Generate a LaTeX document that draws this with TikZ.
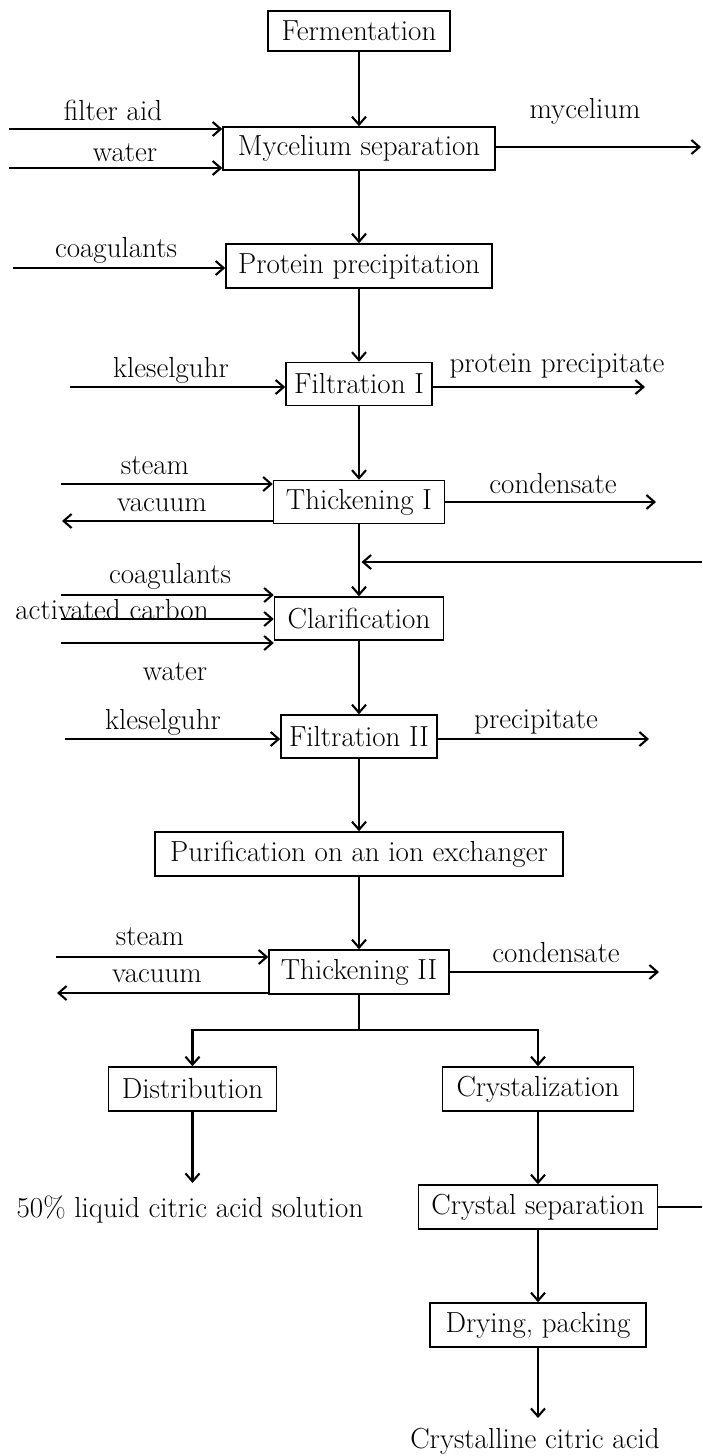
\documentclass[tikz,border=0pt]{standalone}
\usetikzlibrary{arrows.meta,calc}
\begin{document}
\begin{tikzpicture}[x=1pt,y=-1pt,
  every node/.style={font=\fontsize{29}{33}\selectfont},
  box/.style={draw,line width=1.5pt,inner sep=0pt,minimum height=43pt},
  lbl/.style={inner sep=0pt},
  arr/.style={line width=2.1pt,-{Straight Barb[length=8pt,width=14pt,line width=2.1pt]}},
  ln/.style={line width=2.1pt}]
\useasboundingbox (0,0) rectangle (702,1456);
% boxes
\node[box,minimum width=182pt,minimum height=40pt] (ferm) at (359,31) {Fermentation};
\node[box,minimum width=272pt] (myc) at (359,148.5) {Mycelium separation};
\node[box,minimum width=266pt,minimum height=44pt] (prot) at (359,266) {Protein precipitation};
\node[box,minimum width=146pt] (f1) at (359,384) {Filtration I};
\node[box,minimum width=171pt] (t1) at (359,502) {Thickening I};
\node[box,minimum width=169pt] (clar) at (359,618.5) {Clarification};
\node[box,minimum width=156pt] (f2) at (359,736.5) {Filtration II};
\node[box,minimum width=408pt,minimum height=44pt] (pur) at (359,854) {Purification on an ion exchanger};
\node[box,minimum width=180pt,minimum height=44pt] (t2) at (359,972) {Thickening II};
\node[box,minimum width=168pt,minimum height=44pt] (dist) at (192.5,1089) {Distribution};
\node[box,minimum width=191pt,minimum height=44pt] (cry) at (538,1089) {Crystalization};
\node[box,minimum width=239pt,minimum height=44pt] (csep) at (538,1207) {Crystal separation};
\node[box,minimum width=216pt,minimum height=44pt] (dry) at (538,1325) {Drying, packing};
% labels
\node[lbl] (lfa) at (113,110) {filter aid};
\node[lbl] (lw1) at (125,153) {water};
\node[lbl] (lmy) at (585,111) {mycelium};
\node[lbl] (lco1) at (116,250) {coagulants};
\node[lbl] (lk1) at (171,370) {kleselguhr};
\node[lbl] (lpp) at (557,366) {protein precipitate};
\node[lbl] (ls1) at (155,466) {steam};
\node[lbl] (lv1) at (162,505) {vacuum};
\node[lbl] (lc1) at (553,484) {condensate};
\node[lbl] (lco2) at (170,576) {coagulants};
\node[lbl] (lac) at (112,610) {activated carbon};
\node[lbl] (lw2) at (175,672) {water};
\node[lbl] (lk2) at (163,722) {kleselguhr};
\node[lbl] (lpr) at (536,722) {precipitate};
\node[lbl] (ls2) at (150,937) {steam};
\node[lbl] (lv2) at (157,976) {vacuum};
\node[lbl] (lc2) at (556,953) {condensate};
\node[lbl] (lsol) at (190,1209) {50\% liquid citric acid solution};
\node[lbl] (lcca) at (535,1441) {Crystalline citric acid};
% free-end coordinates
\coordinate (cfa) at (9,129);
\coordinate (cw1) at (9,168);
\coordinate (cmy) at (701,147);
\coordinate (cco1) at (13,268);
\coordinate (ck1) at (70,387);
\coordinate (cpp) at (645,387);
\coordinate (cs1) at (61,484);
\coordinate (cv1) at (62,521);
\coordinate (cc1) at (656,502);
\coordinate (crc) at (702,562);
\coordinate (cco2) at (61,595);
\coordinate (cac) at (61,619);
\coordinate (cw2) at (61,643);
\coordinate (ck2) at (65,739);
\coordinate (cpr) at (649,739);
\coordinate (cs2) at (56,957);
\coordinate (cv2) at (57,993);
\coordinate (cc2) at (659,972);
\coordinate (split) at (359,1030);
\coordinate (sl) at (192.5,1030);
\coordinate (sr) at (538,1030);
\coordinate (csol) at (192.5,1183);
\coordinate (ccsep) at (702,1207);
\coordinate (ccca) at (538,1418);
% main flow
\draw[arr] (ferm) -- (myc);
\draw[arr] (myc) -- (prot);
\draw[arr] (prot) -- (f1);
\draw[arr] (f1) -- (t1);
\draw[arr] (t1) -- (clar);
\draw[arr] (clar) -- (f2);
\draw[arr] (f2) -- (pur);
\draw[arr] (pur) -- (t2);
\draw[ln] (t2.south) -- (split);
\draw[ln,line cap=rect] (sl) -- (sr);
\draw[arr] (sl) -- (dist.north);
\draw[arr] (sr) -- (cry.north);
\draw[arr] (dist.south) -- (csol);
\draw[arr] (cry) -- (csep);
\draw[arr] (csep) -- (dry);
\draw[arr] (dry.south) -- (ccca);
\draw[ln] (csep.east) -- (ccsep);
% side streams
\draw[arr] (cfa) -- (cfa -| myc.west);
\draw[arr] (cw1) -- (cw1 -| myc.west);
\draw[arr] (cmy -| myc.east) -- (cmy);
\draw[arr] (cco1) -- (cco1 -| prot.west);
\draw[arr] (ck1) -- (ck1 -| f1.west);
\draw[arr] (cpp -| f1.east) -- (cpp);
\draw[arr] (cs1) -- (cs1 -| t1.west);
\draw[arr] (cv1 -| t1.west) -- (cv1);
\draw[arr] (cc1 -| t1.east) -- (cc1);
\draw[arr] (crc) -- ($(crc -| t1.south)+(2.5,0)$);
\draw[arr] (cco2) -- (cco2 -| clar.west);
\draw[arr] (cac) -- (cac -| clar.west);
\draw[arr] (cw2) -- (cw2 -| clar.west);
\draw[arr] (ck2) -- (ck2 -| f2.west);
\draw[arr] (cpr -| f2.east) -- (cpr);
\draw[arr] (cs2) -- (cs2 -| t2.west);
\draw[arr] (cv2 -| t2.west) -- (cv2);
\draw[arr] (cc2 -| t2.east) -- (cc2);
\end{tikzpicture}
\end{document}
